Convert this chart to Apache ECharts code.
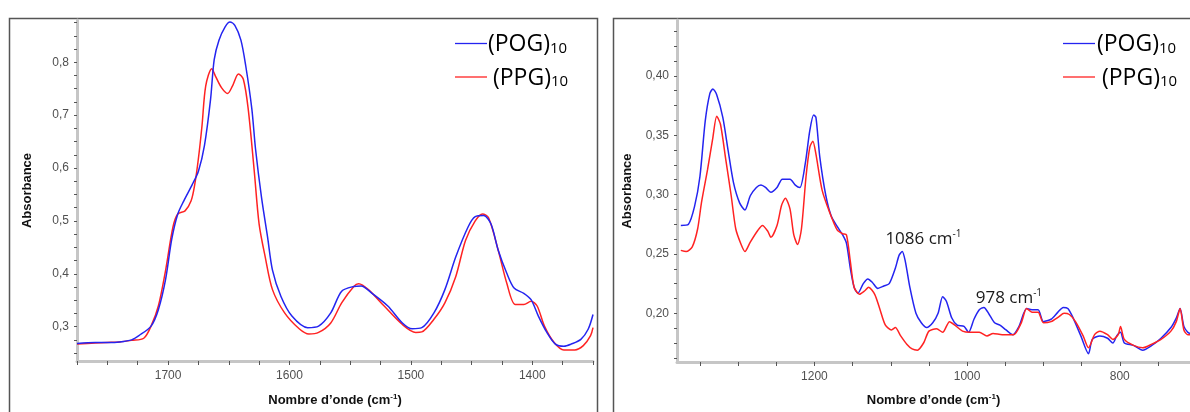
<!DOCTYPE html>
<html><head><meta charset="utf-8">
<script src="https://cdn.jsdelivr.net/npm/echarts@6/dist/echarts.min.js"></script>
<style>html,body{margin:0;padding:0;background:#fff}#c{width:1190px;height:412px}</style>
</head><body><div id="c"></div>
<script>
// ---------- DATA ----------
// Left panel (amide region)
const leftPogX = [1775,1760,1749,1740,1730,1724,1714,1708,1702,1697,1692,1687,1680,1675,1670,1665,1662,1658,1653,1649,1645,1640,1636,1631,1628,1623,1618,1614,1607,1598,1585,1576,1566,1557,1547,1541,1532,1519,1507,1499,1491,1481,1472,1463,1453,1447,1440,1434,1428,1421,1415,1407,1401,1395,1388,1381,1374,1368,1360,1354,1350];
const leftPogY = [0.268,0.270,0.270,0.271,0.275,0.283,0.301,0.332,0.390,0.465,0.513,0.538,0.569,0.594,0.643,0.730,0.805,0.842,0.867,0.876,0.870,0.842,0.793,0.712,0.637,0.544,0.469,0.407,0.357,0.320,0.298,0.301,0.326,0.367,0.376,0.377,0.363,0.339,0.307,0.296,0.298,0.326,0.370,0.432,0.488,0.508,0.510,0.494,0.444,0.401,0.373,0.363,0.351,0.320,0.289,0.267,0.263,0.267,0.276,0.295,0.323];
const leftPpgX = [1775,1760,1750,1740,1730,1720,1714,1708,1702,1696,1692,1686,1681,1678,1675,1672,1669,1664,1661,1656,1651,1647,1642,1638,1634,1629,1625,1620,1614,1604,1592,1584,1576,1566,1557,1547,1543,1535,1522,1507,1496,1491,1481,1472,1463,1455,1447,1441,1436,1428,1421,1414,1407,1401,1396,1390,1382,1374,1365,1358,1352,1350];
const leftPpgY = [0.267,0.269,0.270,0.271,0.274,0.278,0.301,0.339,0.407,0.488,0.513,0.519,0.538,0.569,0.618,0.681,0.755,0.788,0.774,0.752,0.741,0.755,0.778,0.768,0.712,0.594,0.494,0.432,0.370,0.326,0.296,0.286,0.289,0.307,0.345,0.376,0.381,0.370,0.339,0.304,0.289,0.290,0.314,0.345,0.395,0.463,0.500,0.513,0.506,0.444,0.382,0.342,0.342,0.348,0.339,0.301,0.270,0.256,0.256,0.264,0.283,0.298];
// Right panel (fingerprint region)
const rightPogX = [1375,1365,1357,1350,1343,1337,1333,1328,1320,1313,1306,1298,1291,1284,1276,1270,1264,1257,1249,1242,1232,1225,1219,1212,1206,1201,1198,1193,1185,1178,1170,1163,1158,1153,1148,1143,1136,1130,1124,1117,1109,1102,1094,1089,1085,1081,1075,1067,1060,1053,1045,1038,1032,1027,1020,1013,1004,998,991,984,978,971,964,957,949,940,932,922,915,907,900,890,881,874,868,861,851,841,836,826,816,809,804,799,794,782,770,758,746,733,726,721,716,711,708];
const rightPogY = [0.274,0.275,0.290,0.315,0.362,0.385,0.389,0.384,0.365,0.337,0.310,0.293,0.287,0.299,0.306,0.308,0.306,0.302,0.306,0.313,0.313,0.308,0.306,0.326,0.354,0.367,0.365,0.332,0.299,0.282,0.273,0.266,0.259,0.238,0.222,0.217,0.225,0.229,0.226,0.221,0.223,0.225,0.238,0.249,0.252,0.244,0.222,0.200,0.192,0.188,0.192,0.200,0.214,0.210,0.196,0.190,0.189,0.184,0.195,0.203,0.205,0.199,0.192,0.190,0.186,0.182,0.189,0.204,0.203,0.203,0.193,0.195,0.201,0.205,0.204,0.196,0.181,0.166,0.178,0.181,0.179,0.175,0.181,0.184,0.175,0.173,0.169,0.173,0.179,0.188,0.196,0.204,0.189,0.184,0.183];
const rightPpgX = [1375,1368,1360,1353,1348,1340,1333,1328,1323,1316,1309,1303,1296,1291,1284,1274,1268,1261,1257,1249,1243,1238,1232,1227,1222,1217,1211,1206,1202,1198,1190,1180,1170,1163,1158,1153,1148,1141,1134,1129,1121,1114,1107,1099,1094,1087,1079,1072,1065,1057,1050,1040,1032,1023,1016,1006,996,984,974,966,954,939,929,922,915,907,900,890,880,873,866,858,848,841,833,826,816,809,802,799,794,782,770,758,746,733,726,721,716,711,708];
const rightPpgY = [0.253,0.252,0.256,0.271,0.293,0.321,0.348,0.366,0.359,0.329,0.299,0.271,0.258,0.252,0.260,0.270,0.274,0.269,0.264,0.274,0.291,0.297,0.288,0.266,0.258,0.271,0.315,0.340,0.345,0.334,0.304,0.285,0.270,0.267,0.266,0.244,0.222,0.216,0.219,0.222,0.216,0.203,0.190,0.186,0.188,0.181,0.174,0.170,0.169,0.175,0.185,0.187,0.184,0.193,0.190,0.185,0.184,0.184,0.181,0.183,0.182,0.182,0.192,0.204,0.201,0.201,0.192,0.193,0.197,0.200,0.199,0.193,0.181,0.171,0.182,0.185,0.182,0.178,0.182,0.189,0.178,0.173,0.171,0.174,0.178,0.185,0.193,0.204,0.186,0.182,0.182];
// Tick values
const leftXMajor = [1700,1600,1500,1400];
const leftYMajor = [0.3,0.4,0.5,0.6,0.7,0.8];
const rightXMajor = [1200,1000,800];
const rightYMajor = [0.20,0.25,0.30,0.35,0.40];
const annotations = [{w:1086, a:0.252, text:'1086 cm', dx:22, dy:-12},{w:978, a:0.205, text:'978 cm', dx:25, dy:-9}];
const seriesNames = ['(POG)', '(PPG)'];
const subscript = '10';

// ---------- HELPERS ----------
function zip(xs, ys){ return xs.map((x,i)=>[x, ys[i]]); }
function steps(a, b, s){ const out=[]; const n=Math.round((b-a)/s); for(let i=0;i<=n;i++) out.push(+(a+i*s).toFixed(5)); return out; }

const BLUE = '#2424f0', RED = '#ff2222';
const axisLineStyle = {color:'#c6c6c6', width:3};
const tickStyle = {color:'#555', width:1};
const labelFont = {fontFamily:'Liberation Sans', fontSize:12, color:'#505050'};
const nameFont = {fontFamily:'Liberation Sans', fontSize:13, fontWeight:'bold', color:'#111',
  rich:{s:{fontFamily:'Liberation Sans', fontSize:8, fontWeight:'bold', color:'#111', padding:[0,0,7,0]}}};

function xAxisDef(grid, min, max, minorStep, majors, gap){
  return {type:'value', gridIndex:grid, min:min, max:max, inverse:true,
    name:'Nombre d\u2019onde (cm{s|-1})', nameLocation:'middle', nameGap:gap, nameTextStyle:nameFont,
    axisLine:{show:true, lineStyle:axisLineStyle},
    axisTick:{show:true, length:4, lineStyle:tickStyle, customValues: steps(Math.ceil(min/minorStep)*minorStep, Math.floor(max/minorStep)*minorStep, minorStep)},
    axisLabel:Object.assign({margin:9, customValues:majors, formatter:v=>String(v)}, labelFont),
    splitLine:{show:false}};
}
function yAxisDef(grid, min, max, minorStep, majors, dec){
  return {type:'value', gridIndex:grid, min:min, max:max, position:'left',
    name:'Absorbance', nameLocation:'middle', nameGap:43, nameTextStyle:nameFont,
    axisLine:{show:true, lineStyle:axisLineStyle},
    axisTick:{show:true, length:3, lineStyle:tickStyle, customValues: steps(Math.ceil(min/minorStep-1e-6)*minorStep, Math.floor(max/minorStep+1e-6)*minorStep, minorStep)},
    axisLabel:Object.assign({margin:8, customValues:majors, formatter:v=>v.toFixed(dec).replace('.',',')}, labelFont),
    splitLine:{show:false}};
}

function legendGraphics(lineX, textX, y1, y2){
  const els = [];
  [[y1, BLUE, '#3b33c8', seriesNames[0]], [y2, RED, '#ff1f1f', seriesNames[1]]].forEach(([y, lc, tc, nm], i) => {
    els.push({type:'line', shape:{x1:lineX, y1:y, x2:lineX+32, y2:y}, style:{stroke:lc, lineWidth:1.3}, silent:true});
    els.push({type:'text', x:textX + (i===1?5:0), y:y+5, style:{
      text:'{m|'+nm+'}{s|'+subscript+'}', verticalAlign:'middle', align:'left',
      rich:{m:{fontFamily:'Open Sans', fontSize:23, color:tc, padding:[0,0,8,0]},
            s:{fontFamily:'Open Sans', fontSize:15, color:tc}}}, silent:true});
  });
  return els;
}

const chart = echarts.init(document.getElementById('c'), null, {renderer:'canvas'});
chart.setOption({
  animation:false,
  backgroundColor:'#ffffff',
  grid:[{left:77, top:20, width:516, height:345},
        {left:677, top:20, right:0, height:350}],
  xAxis:[xAxisDef(0, 1350, 1775, 25, leftXMajor, 32), xAxisDef(1, 708, 1380, 50, rightXMajor, 31)],
  yAxis:[yAxisDef(0, 0.235, 0.88, 0.025, leftYMajor, 1), yAxisDef(1, 0.159, 0.447, 0.0125, rightYMajor, 2)],
  series:[
    {type:'line', name:'POG-L', xAxisIndex:0, yAxisIndex:0, data:zip(leftPogX,leftPogY), showSymbol:false, smooth:0.3, lineStyle:{color:BLUE, width:1.5}, z:3},
    {type:'line', name:'PPG-L', xAxisIndex:0, yAxisIndex:0, data:zip(leftPpgX,leftPpgY), showSymbol:false, smooth:0.3, lineStyle:{color:RED, width:1.5}, z:2},
    {type:'line', name:'POG-R', xAxisIndex:1, yAxisIndex:1, data:zip(rightPogX,rightPogY), showSymbol:false, smooth:0.25, lineStyle:{color:BLUE, width:1.5}, z:2,
      markPoint:{symbol:'circle', symbolSize:0, silent:true,
        data: annotations.map(a=>({coord:[a.w, a.a], label:{show:true, position:'inside', offset:[a.dx, a.dy],
          formatter:'{a|'+a.text+'}{s|-1}',
          rich:{a:{fontFamily:'Open Sans', fontSize:17, color:'#1a1a1a'}, s:{fontFamily:'Open Sans', fontSize:10, color:'#1a1a1a', padding:[0,0,10,0]}}}}))}},
    {type:'line', name:'PPG-R', xAxisIndex:1, yAxisIndex:1, data:zip(rightPpgX,rightPpgY), showSymbol:false, smooth:0.25, lineStyle:{color:RED, width:1.5}, z:3}
  ],
  graphic:[
    {type:'rect', shape:{x:9.5, y:18.5, width:588, height:420}, style:{fill:'none', stroke:'#555', lineWidth:1.5}, silent:true, z:-1},
    {type:'rect', shape:{x:613.5, y:18.5, width:620, height:420}, style:{fill:'none', stroke:'#555', lineWidth:1.5}, silent:true, z:-1}
  ].concat(legendGraphics(455, 488, 43.5, 77), legendGraphics(1063, 1097, 43.5, 77))
});
</script></body></html>
